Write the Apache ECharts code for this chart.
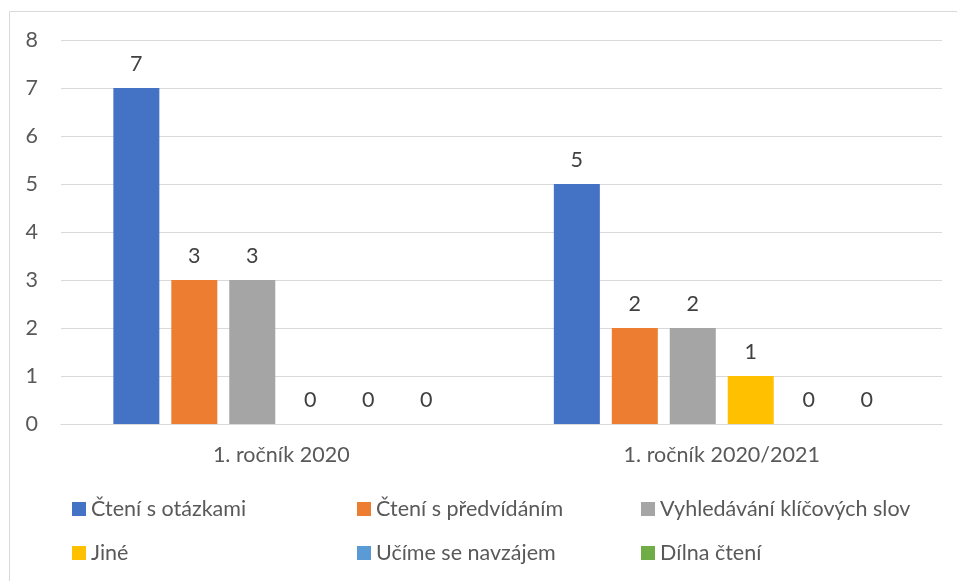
<!DOCTYPE html>
<html><head><meta charset="utf-8">
<script src="https://cdn.jsdelivr.net/npm/echarts@6/dist/echarts.min.js"></script>
<style>html,body{margin:0;padding:0;background:#fff}#c{width:957px;height:581px}</style>
</head><body><div id="c"></div>
<script>
const categories = ['1. ročník 2020', '1. ročník 2020/2021'];
const seriesNames = ['Čtení s otázkami', 'Čtení s předvídáním', 'Vyhledávání klíčových slov', 'Jiné', 'Učíme se navzájem', 'Dílna čtení'];
const cteniSOtazkami = [7, 5];
const cteniSPredvidanim = [3, 2];
const vyhledavani = [3, 2];
const jine = [0, 1];
const ucimeSe = [0, 0];
const dilnaCteni = [0, 0];
const colors = ['#4472C4', '#ED7D31', '#A5A5A5', '#FFC000', '#5B9BD5', '#70AD47'];
const seriesValues = [cteniSOtazkami, cteniSPredvidanim, vyhledavani, jine, ucimeSe, dilnaCteni];

const font = 'Lato, "Open Sans", sans-serif';
const fs = 21.5;
const chart = echarts.init(document.getElementById('c'));
const legendPos = [[72, 498], [357, 498], [641, 498], [72, 542], [357, 542], [641, 542]];
chart.setOption({
  animation: false,
  graphic: [{type: 'rect', shape: {x: 9.5, y: 11.5, width: 1000, height: 700}, style: {fill: 'none', stroke: '#d9d9d9', lineWidth: 1}}],
  grid: {left: 61, right: 15, top: 40, bottom: 157, containLabel: false},
  xAxis: {type: 'category', data: categories,
    axisLine: {lineStyle: {color: '#d9d9d9'}}, axisTick: {show: false},
    axisLabel: {color: '#595959', fontSize: fs, fontFamily: font, margin: 20}},
  yAxis: {type: 'value', min: 0, max: 8, interval: 1,
    axisLine: {show: false}, axisTick: {show: false},
    splitLine: {lineStyle: {color: '#d9d9d9'}},
    axisLabel: {color: '#595959', fontSize: fs, fontFamily: font, margin: 23}},
  legend: seriesNames.map((n, i) => ({data: [n], left: legendPos[i][0], top: legendPos[i][1],
    padding: 0, icon: 'rect', itemWidth: 14, itemHeight: 14, itemGap: 5,
    textStyle: {color: '#595959', fontSize: fs, fontFamily: font}})),
  series: seriesNames.map((n, i) => ({name: n, type: 'bar', data: seriesValues[i],
    barWidth: 46, barGap: '26%',
    itemStyle: {color: colors[i]},
    label: {show: true, position: 'top', distance: 13, color: '#404040', fontSize: fs, fontFamily: font}}))
});
</script></body></html>
